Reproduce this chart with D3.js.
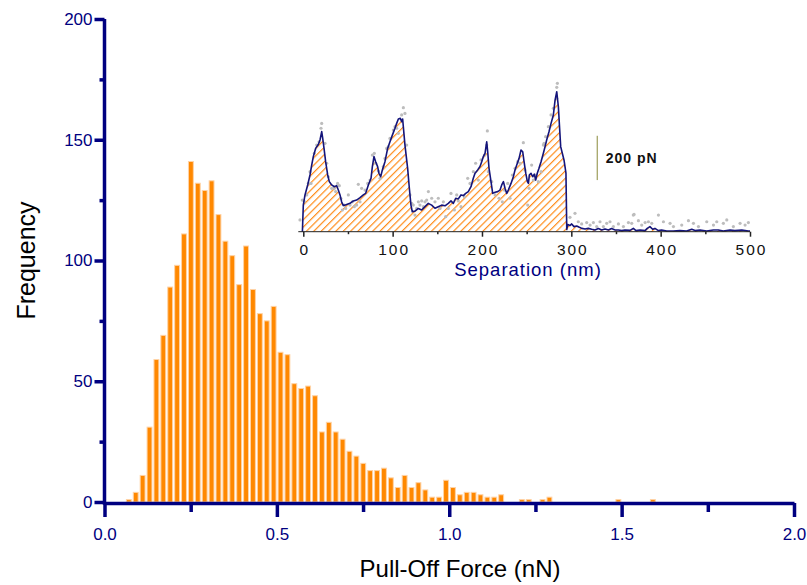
<!DOCTYPE html>
<html>
<head>
<meta charset="utf-8">
<script src="https://cdn.jsdelivr.net/npm/d3@7"></script>
<style>
  body { margin: 0; background: #fff; }
  svg { display: block; font-family: Arial, "Liberation Sans", sans-serif; }
</style>
</head>
<body>
<div id="chart"></div>
<script>
// histogram of pull-off forces, bins of 0.02 nN (start of each non-empty bin)
const binWidth = 0.02;
const binStart = [0.06, 0.08, 0.10, 0.12, 0.14, 0.16, 0.18, 0.20, 0.22, 0.24, 0.26, 0.28, 0.30, 0.32, 0.34, 0.36, 0.38,
  0.40, 0.42, 0.44, 0.46, 0.48, 0.50, 0.52, 0.54, 0.56, 0.58, 0.60, 0.62, 0.64, 0.66, 0.68, 0.70, 0.72, 0.74, 0.76, 0.78,
  0.80, 0.82, 0.84, 0.86, 0.88, 0.90, 0.92, 0.94, 0.96, 0.98, 1.00, 1.02, 1.04, 1.06, 1.08, 1.10, 1.12, 1.14,
  1.20, 1.22, 1.26, 1.28, 1.48, 1.58];
const frequency = [1, 4, 11, 31, 59, 69, 89, 98, 111, 141, 132, 129, 133, 119, 108, 102, 90,
  106, 88, 78, 75, 81, 62, 61, 49, 47, 48, 44, 29, 33, 29, 26, 21, 19, 16, 13, 13,
  14, 10, 6, 11, 6, 8, 5, 2, 2, 9, 6, 3, 4, 4, 3, 2, 2, 3,
  1, 1, 1, 2, 1, 1];

const xTicks = [0, 0.5, 1, 1.5, 2];
const xMinorTicks = [0.25, 0.75, 1.25, 1.75];
const yTicks = [0, 50, 100, 150, 200];
const yMinorTicks = [25, 75, 125, 175];

// inset: force-separation trace, [separation nm, force pN]
const traceCurve = [[-1, 0], [0, 120], [1.9, 166], [4.9, 211], [7.5, 256], [9.4, 301], [11.2, 339], [13.8, 376],
  [16.8, 394], [18.7, 414], [20.6, 452], [21.7, 422], [23.2, 376], [25.0, 316], [27.3, 256], [29.1, 226], [31.8, 211],
  [34.7, 203], [37.3, 208], [39.2, 188], [41.1, 166], [42.9, 135], [44.8, 118], [46.7, 120], [48.5, 123], [52.3, 128],
  [56.0, 139], [59.7, 143], [63.5, 154], [67.2, 166], [69.8, 173], [72.8, 211], [75.8, 241], [77.3, 294], [79.1, 339],
  [81.0, 316], [83.2, 294], [84.7, 264], [86.6, 248], [88.5, 279], [91.4, 316], [94.4, 376], [97.0, 406], [99.7, 436],
  [102.6, 467], [104.5, 489], [106.4, 509], [108.6, 512], [110.1, 497], [111.2, 509], [113.8, 391], [116.8, 286],
  [118.7, 196], [120.5, 120], [122.0, 90], [125.0, 93], [128.8, 105], [132.5, 98], [136.2, 113], [139.9, 128],
  [143.7, 120], [147.4, 106], [151.1, 113], [154.9, 120], [158.6, 117], [162.3, 128], [165.3, 139], [167.9, 128],
  [170.6, 151], [173.5, 148], [176.5, 166], [179.1, 163], [181.8, 173], [184.7, 181], [187.7, 203], [190.3, 241],
  [192.2, 264], [195.2, 279], [197.8, 294], [199.7, 316], [201.5, 339], [203.4, 354], [205.3, 406], [206.4, 361],
  [207.9, 286], [210.1, 226], [212.0, 173], [214.7, 178], [217.6, 181], [220.2, 188], [222.1, 211], [224.0, 226],
  [225.8, 196], [227.7, 173], [229.5, 188], [232.5, 218], [235.1, 248], [237.0, 279], [238.9, 301], [241.5, 331],
  [243.7, 369], [245.6, 361], [247.1, 316], [249.0, 264], [250.8, 226], [252.0, 218], [253.0, 256], [254.9, 264],
  [256.8, 248], [258.6, 260], [260.1, 233], [261.9, 264], [263.8, 286], [266.1, 316], [268.7, 354], [270.6, 384],
  [272.4, 414], [275.0, 451], [277.3, 489], [279.9, 527], [281.8, 594], [283.7, 632], [285.5, 564], [288.1, 384],
  [291.8, 324], [294.0, 264], [294.9, 10], [296.0, 32], [298.6, 28], [300.4, 35], [303, 23], [306, 26], [309, 20],
  [311.7, 15], [315.4, 12], [319, 15], [322.8, 11], [326.5, 8], [330.3, 14], [334, 8], [337.7, 12], [341.5, 8],
  [345, 14], [349, 8], [352.6, 8], [356.4, 5], [360, 8], [365.7, 6], [369.4, 15], [372.4, 5], [376.9, 8], [382.5, 5],
  [385, 15], [388, 23], [391, 11], [393.6, 15], [397.4, 5], [401, 8], [406.8, 3], [414, 3], [421.6, 5], [429, 3],
  [434.8, 11], [438.5, 5], [444, 8], [451.5, 3], [459, 8], [464.6, 8], [470, 3], [477.7, 8], [483, 5], [490.8, 8],
  [498.2, 3], [500, 3]];

const traceRaw = [[-3.7, 53], [-1.1, 143], [1.2, 136], [3.8, 166], [5.6, 218], [7.5, 271], [8.6, 218], [12.4, 354],
  [15.0, 391], [17.6, 406], [19.8, 467], [20.6, 489], [24.3, 399], [26.2, 309], [28.0, 248], [31.8, 196], [34.7, 196],
  [36.2, 181], [38.4, 218], [40.3, 208], [42.2, 150], [43.7, 98], [45.9, 120], [47.4, 105], [50.4, 166], [52.3, 120],
  [54.9, 135], [57.1, 113], [59.7, 120], [61.6, 214], [63.5, 135], [65.3, 196], [69.1, 188], [72.1, 218], [74.7, 233],
  [77.3, 346], [79.5, 354], [81.0, 309], [84.0, 274], [85.9, 241], [89.6, 294], [91.4, 331], [93.3, 376], [95.2, 384],
  [97.0, 421], [100.8, 459], [102.6, 474], [104.5, 467], [106.4, 444], [110.1, 527], [112.0, 560], [113.8, 534],
  [115.7, 391], [119.4, 166], [121.3, 128], [123.1, 120], [125.0, 75], [126.9, 105], [128.8, 135], [130.6, 120],
  [132.5, 139], [134.4, 113], [136.2, 135], [138.1, 143], [140.0, 181], [143.7, 151], [147.4, 135], [151.1, 151],
  [153.0, 105], [156.8, 135], [159.4, 68], [162.3, 105], [165.3, 173], [169.1, 98], [171.7, 166], [173.5, 139],
  [176.5, 113], [180.3, 158], [184.0, 241], [186.6, 218], [190.3, 271], [192.9, 309], [195.9, 233], [198.9, 324],
  [202.7, 346], [205.3, 391], [206.0, 455], [207.1, 271], [210.9, 226], [214.7, 166], [219.1, 151], [222.8, 135],
  [225.1, 188], [228.8, 218], [231.4, 151], [234.0, 256], [237.0, 286], [240.0, 316], [242.6, 309], [246.3, 402],
  [248.2, 279], [251.2, 120], [252.7, 196], [255.6, 301], [257.5, 233], [260.4, 256], [263.1, 226], [266.1, 271],
  [268.7, 391], [269.5, 399], [271.3, 429], [274.3, 474], [277.3, 527], [279.9, 557], [283.6, 602], [283.7, 652],
  [284.4, 670], [298.5, 65], [304.1, 83], [307.8, 45], [311.6, 35], [317.2, 41], [321, 30], [324.7, 41], [328.4, 23],
  [332.1, 45], [335.9, 23], [339.6, 38], [343.3, 45], [347.1, 23], [352.7, 35], [358.3, 23], [363.9, 41], [367.6, 38],
  [369.4, 75], [370.2, 78], [375.1, 50], [378.8, 30], [382.6, 41], [386.3, 45], [390.0, 38], [397.5, 75], [403.1, 45],
  [410.5, 38], [414.3, 23], [423.6, 30], [431.1, 50], [436.7, 38], [442.3, 23], [451.6, 45], [459.1, 30], [462.8, 45],
  [470.2, 38], [474, 53], [481.4, 23], [488.9, 38], [494.5, 30], [498.2, 41]];

const insetTicks = [0, 100, 200, 300, 400, 500];
const insetMinorTicks = [50, 150, 250, 350, 450];
const scaleBarForce = [233, 433];   // 200 pN scale bar
const scaleBarSep = 329;

const width = 807, height = 585;
const navy = "#000080";

const svg = d3.select("#chart").append("svg")
  .attr("width", width)
  .attr("height", height);

const x = d3.scaleLinear().domain([0, 2]).range([104.5, 794]);
const y = d3.scaleLinear().domain([0, 200]).range([502, 19]);
const axisY = 503;

// bars
svg.append("g")
  .selectAll("rect")
  .data(binStart.map((b, i) => ({b, v: frequency[i]})))
  .join("rect")
  .attr("x", d => x(d.b) + 1.2)
  .attr("width", d => x(d.b + binWidth) - x(d.b) - 2)
  .attr("y", d => y(d.v))
  .attr("height", d => y(0) - y(d.v))
  .attr("fill", "#ff8800")
  .attr("stroke", "#ffd3a6")
  .attr("stroke-width", 1);

const styleAxis = g => {
  g.select(".domain").attr("stroke", navy).attr("stroke-width", 3.5);
  g.selectAll(".tick line").attr("stroke", navy).attr("stroke-width", 3.5);
  g.selectAll(".tick text").attr("fill", navy).attr("font-size", 17).attr("font-family", "Arial, 'Liberation Sans', sans-serif");
};

// x axis
svg.append("g")
  .attr("transform", `translate(0,${axisY})`)
  .call(d3.axisBottom(x).tickValues(xMinorTicks).tickFormat("").tickSize(9))
  .call(g => g.select(".domain").remove())
  .call(styleAxis);
svg.append("g")
  .attr("transform", `translate(0,${axisY})`)
  .call(d3.axisBottom(x).tickValues(xTicks).tickFormat(d3.format(".1f")).tickSizeInner(14).tickSizeOuter(0))
  .call(styleAxis)
  .call(g => g.selectAll(".tick text").attr("y", 37).attr("dy", null));

// y axis
svg.append("g")
  .attr("transform", `translate(${x(0)},0)`)
  .call(d3.axisLeft(y).tickValues(yMinorTicks).tickFormat("").tickSize(5))
  .call(g => g.select(".domain").remove())
  .call(styleAxis);
svg.append("g")
  .attr("transform", `translate(${x(0)},0)`)
  .call(d3.axisLeft(y).tickValues(yTicks).tickSizeInner(10).tickSizeOuter(0).tickPadding(2))
  .call(styleAxis)
  .call(g => g.select(".domain").attr("d", `M0,${y(200)}V${axisY + 1.75}`));

svg.append("text")
  .attr("x", 460)
  .attr("y", 577)
  .attr("text-anchor", "middle")
  .attr("font-size", 24)
  .attr("fill", "#000")
  .text("Pull-Off Force (nN)");

svg.append("text")
  .attr("transform", `translate(35,${y(100)}) rotate(-90)`)
  .attr("text-anchor", "middle")
  .attr("font-size", 25)
  .attr("fill", "#000")
  .text("Frequency");

// ---- inset ----
const sx = d3.scaleLinear().domain([0, 500]).range([303.3, 750]);
const sy = d3.scaleLinear().domain([0, 200]).range([231.7, 187.4]);

const defs = svg.append("defs");
defs.append("pattern")
  .attr("id", "hatch")
  .attr("patternUnits", "userSpaceOnUse")
  .attr("width", 5.2)
  .attr("height", 5.2)
  .attr("patternTransform", "rotate(45)")
  .append("line")
  .attr("x1", 0).attr("y1", 0)
  .attr("x2", 0).attr("y2", 5.2)
  .attr("stroke", "#ff8c1a")
  .attr("stroke-width", 2.4);

const inset = svg.append("g");

inset.append("path")
  .datum(traceCurve)
  .attr("fill", "url(#hatch)")
  .attr("d", d3.area().x(d => sx(d[0])).y0(sy(0)).y1(d => sy(d[1])));

inset.append("g")
  .selectAll("circle")
  .data(traceRaw)
  .join("circle")
  .attr("cx", d => sx(d[0]))
  .attr("cy", d => sy(d[1]))
  .attr("r", 1.6)
  .attr("fill", "#bdbdbd");

inset.append("path")
  .datum(traceCurve)
  .attr("fill", "none")
  .attr("stroke", "#14147a")
  .attr("stroke-width", 1.6)
  .attr("stroke-linejoin", "round")
  .attr("d", d3.line().x(d => sx(d[0])).y(d => sy(d[1])));

inset.append("g")
  .attr("transform", `translate(0,${sy(0)})`)
  .call(d3.axisBottom(sx).tickValues(insetMinorTicks).tickFormat("").tickSize(2.5))
  .call(g => g.select(".domain").remove())
  .call(g => g.selectAll(".tick line").attr("stroke", "#222").attr("stroke-width", 1.5));
inset.append("g")
  .attr("transform", `translate(0,${sy(0)})`)
  .call(d3.axisBottom(sx).tickValues(insetTicks).tickSizeInner(5).tickSizeOuter(0))
  .call(g => g.select(".domain").attr("stroke", "#222").attr("d", `M${sx(0) - 5},0H${sx(500)}`))
  .call(g => g.selectAll(".tick line").attr("stroke", "#222").attr("stroke-width", 1.5))
  .call(g => g.selectAll(".tick text")
    .attr("y", 23.5).attr("dy", null).attr("dx", 1)
    .attr("fill", "#111")
    .attr("font-size", 15.5)
    .attr("letter-spacing", 2)
    .attr("font-family", "Arial, 'Liberation Sans', sans-serif"));

inset.append("text")
  .attr("x", 528)
  .attr("y", 276)
  .attr("text-anchor", "middle")
  .attr("font-size", 18.5)
  .attr("letter-spacing", 1)
  .attr("fill", navy)
  .text("Separation (nm)");

// scale bar
inset.append("line")
  .attr("x1", sx(scaleBarSep)).attr("x2", sx(scaleBarSep))
  .attr("y1", sy(scaleBarForce[0])).attr("y2", sy(scaleBarForce[1]))
  .attr("stroke", "#8a8a3a")
  .attr("stroke-width", 1);

inset.append("text")
  .attr("x", sx(scaleBarSep) + 8.5)
  .attr("y", (sy(scaleBarForce[0]) + sy(scaleBarForce[1])) / 2 + 5)
  .attr("font-size", 14)
  .attr("font-weight", "bold")
  .attr("letter-spacing", 1)
  .attr("fill", "#111")
  .text("200 pN");
</script>
</body>
</html>
